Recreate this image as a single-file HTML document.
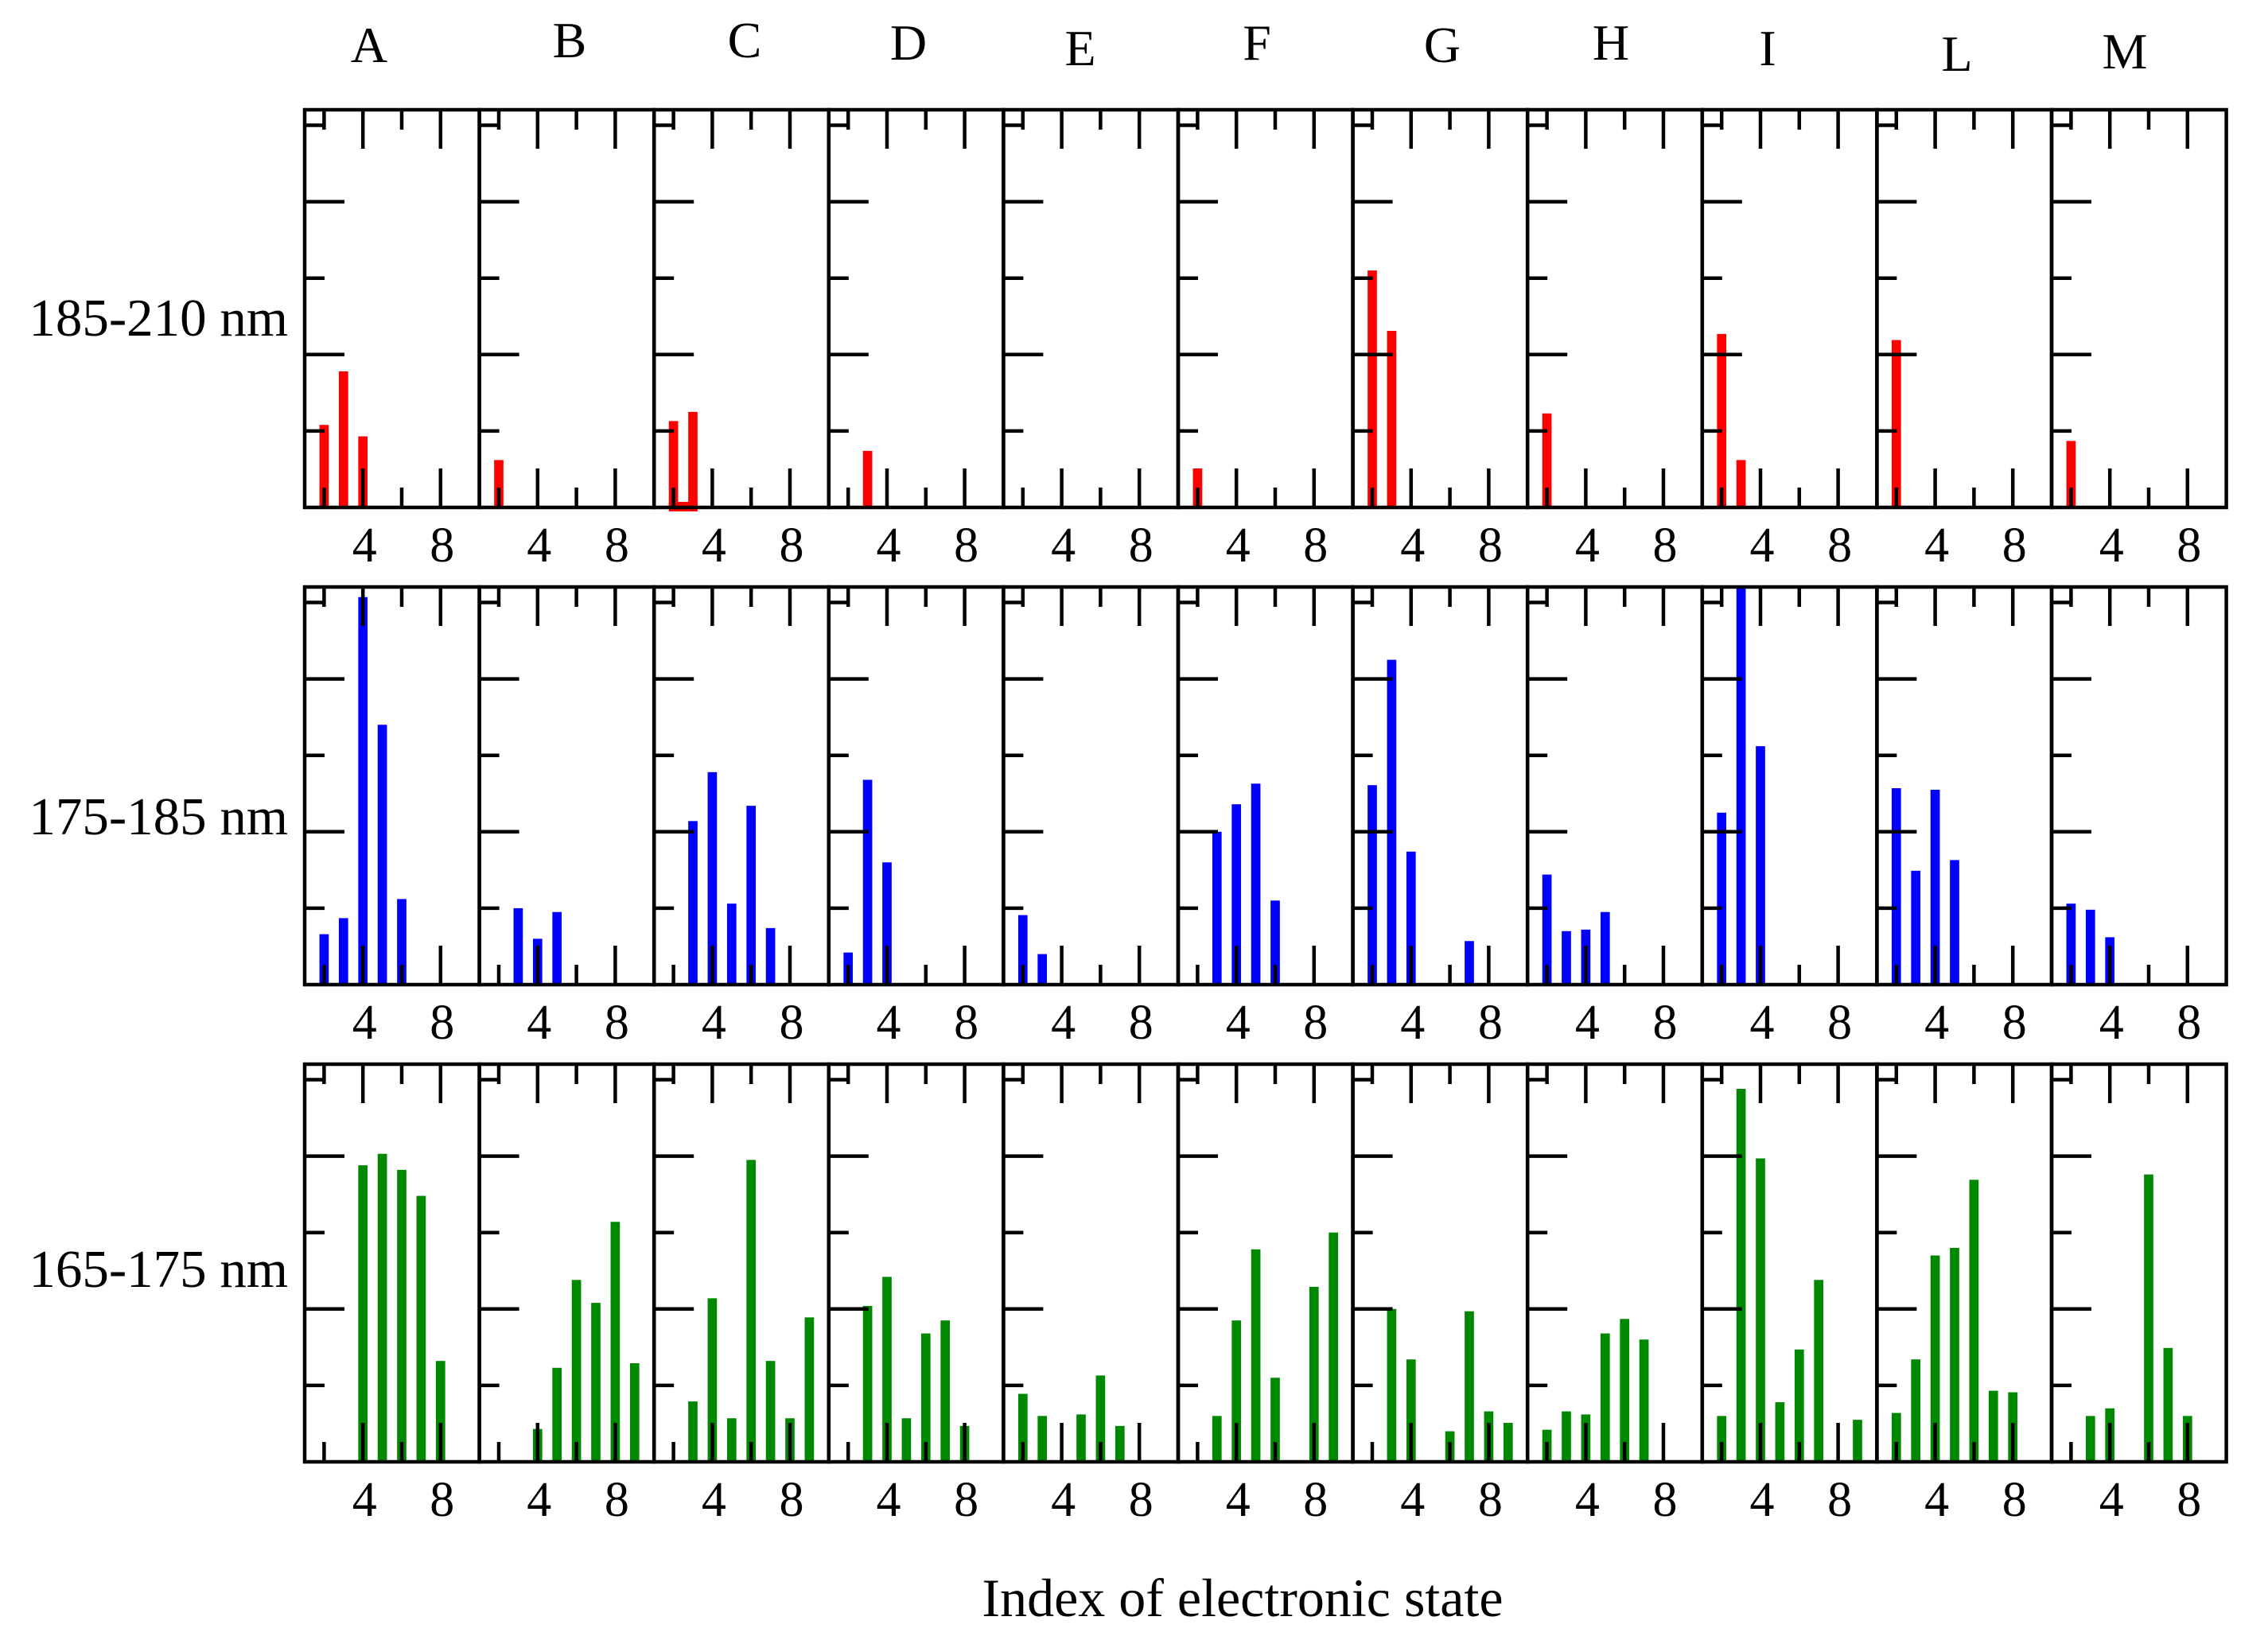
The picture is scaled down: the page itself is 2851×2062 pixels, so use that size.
<!DOCTYPE html>
<html><head><meta charset="utf-8"><style>
html,body{margin:0;padding:0;background:#fff}
svg{display:block}
text{font-family:"Liberation Serif",serif;fill:#000}
</style></head><body>
<svg id="chart" width="2851" height="2062" viewBox="0 0 2851 2062" xmlns="http://www.w3.org/2000/svg">
<g id="bars"></g>
<g id="axes"></g>
<g id="labels"></g>
</svg>
<script>
const molecules = ["A","B","C","D","E","F","G","H","I","L","M"];
const rowLabels = ["185-210 nm","175-185 nm","165-175 nm"];
const rowColors = ["#ff0000","#0000ff","#008800"];
const xTickLabels = ["4","8"];
// each entry: [state index, intensity]
const band1 = [
 [[2,1.08],[3,1.78],[4,0.93]],
 [[2,0.62]],
 [[2,1.13],[3,1.25]],
 [[3,0.74]],
 [],
 [[2,0.51]],
 [[2,3.1],[3,2.31]],
 [[2,1.23]],
 [[2,2.27],[3,0.62]],
 [[2,2.19]],
 [[2,0.87]]
];
const band2 = [
 [[2,0.66],[3,0.87],[4,5.07],[5,3.4],[6,1.12]],
 [[3,1.0],[4,0.6],[5,0.95]],
 [[3,2.14],[4,2.78],[5,1.06],[6,2.34],[7,0.74]],
 [[2,0.42],[3,2.68],[4,1.6]],
 [[2,0.91],[3,0.4]],
 [[3,2.0],[4,2.36],[5,2.63],[6,1.1]],
 [[2,2.61],[3,4.25],[4,1.74],[7,0.57]],
 [[2,1.44],[3,0.7],[4,0.72],[5,0.95]],
 [[2,2.25],[3,5.3],[4,3.12]],
 [[2,2.57],[3,1.49],[4,2.55],[5,1.63]],
 [[2,1.06],[3,0.98],[4,0.62]]
];
const band3 = [
 [[4,3.88],[5,4.03],[6,3.82],[7,3.48],[8,1.32]],
 [[4,0.43],[5,1.23],[6,2.38],[7,2.08],[8,3.14],[9,1.29]],
 [[3,0.79],[4,2.14],[5,0.57],[6,3.95],[7,1.32],[8,0.57],[9,1.89]],
 [[3,2.04],[4,2.42],[5,0.57],[6,1.68],[7,1.85],[8,0.47]],
 [[2,0.89],[3,0.6],[5,0.62],[6,1.13],[7,0.47]],
 [[3,0.6],[4,1.85],[5,2.78],[6,1.1],[8,2.29],[9,3.0]],
 [[3,2.0],[4,1.34],[6,0.4],[7,1.97],[8,0.66],[9,0.51]],
 [[2,0.42],[3,0.66],[4,0.62],[5,1.68],[6,1.87],[7,1.6]],
 [[2,0.6],[3,4.88],[4,3.97],[5,0.78],[6,1.47],[7,2.38],[9,0.55]],
 [[2,0.64],[3,1.34],[4,2.7],[5,2.8],[6,3.69],[7,0.93],[8,0.91]],
 [[3,0.6],[4,0.7],[6,3.76],[7,1.49],[8,0.6]]
];
const bands = [band1, band2, band3];

const NS = "http://www.w3.org/2000/svg";
const L0 = 383, PW = 219.6, PH = 500, rowTops = [138, 738, 1338];
const XMIN = 1, XMAX = 10, YMAX = 500/96.1;
function xs(col, v){ return L0 + col*PW + (v - XMIN)/(XMAX - XMIN)*PW; }
function ys(row, v){ const b = rowTops[row] + PH; return b - Math.min(v, YMAX)/YMAX*PH; }
function mk(tag, attrs, parent){
  const e = document.createElementNS(NS, tag);
  for (const k in attrs) e.setAttribute(k, attrs[k]);
  parent.appendChild(e); return e;
}
const gB = document.getElementById("bars"), gA = document.getElementById("axes"), gL = document.getElementById("labels");
const BW = 11.7;
for (let r = 0; r < 3; r++){
  for (let c = 0; c < molecules.length; c++){
    bands[r][c].forEach(([s, v]) => {
      const x = xs(c, s), y = ys(r, v), y0 = ys(r, 0);
      const el = mk("rect", {x: x - BW/2, y: y, width: BW, height: y0 - y, fill: rowColors[r]}, gB);
      
      
    });
  }
}
{
  const el = mk("rect", {x: xs(2,2) - BW/2, y: ys(0,0) - 7, width: xs(2,3) - xs(2,2) + BW, height: 12, fill: "#ff0000"}, gB);
  
  
}
const rowLabelY = [400, 1027, 1596];
for (let r = 0; r < 3; r++){
  const top = rowTops[r], bot = top + PH;
  for (let c = 0; c < molecules.length; c++){
    const left = L0 + c*PW;
    const fr = mk("rect", {x:left, y:top, width:PW, height:PH, fill:"none", stroke:"#000", "stroke-width":4.5}, gA);
    
    
    [2,4,6,8].forEach(t => {
      const len = (t % 4 === 0) ? 49 : 25;
      const x = xs(c, t);
      mk("line", {x1:x, y1:bot, x2:x, y2:bot-len, stroke:"#000", "stroke-width":4.5}, gA);
      mk("line", {x1:x, y1:top, x2:x, y2:top+len, stroke:"#000", "stroke-width":4.5}, gA);
    });
    [1,2,3,4,5].forEach(t => {
      const len = (t % 2 === 0) ? 50 : 25;
      const y = ys(r, t);
      mk("line", {x1:left, y1:y, x2:left+len, y2:y, stroke:"#000", "stroke-width":4.5}, gA);
    });
    [4,8].forEach((t,i) => {
      const tx = mk("text", {x: xs(c,t) + 2, y: bot + 68, "font-size":62, "text-anchor":"middle"}, gL);
      tx.textContent = xTickLabels[i];
      
      
    });
  }
  const rl = mk("text", {x: 362, y: rowLabelY[r] + 22, "font-size":67, "text-anchor":"end"}, gL);
  rl.textContent = rowLabels[r];
  
  
}
const colX = [464,716,936,1142,1358,1580,1813,2025,2222,2460,2671];
const colY = [78,72,72,75,82,75,78,75,82,89,86];
molecules.forEach((m,i) => {
  const t = mk("text", {x: colX[i], y: colY[i], "font-size":64, "text-anchor":"middle"}, gL);
  t.textContent = m;
  
  
});
const xl = mk("text", {x: 1562, y: 2032, "font-size":68, "text-anchor":"middle"}, gL);
xl.textContent = "Index of electronic state";


</script>
</body></html>
